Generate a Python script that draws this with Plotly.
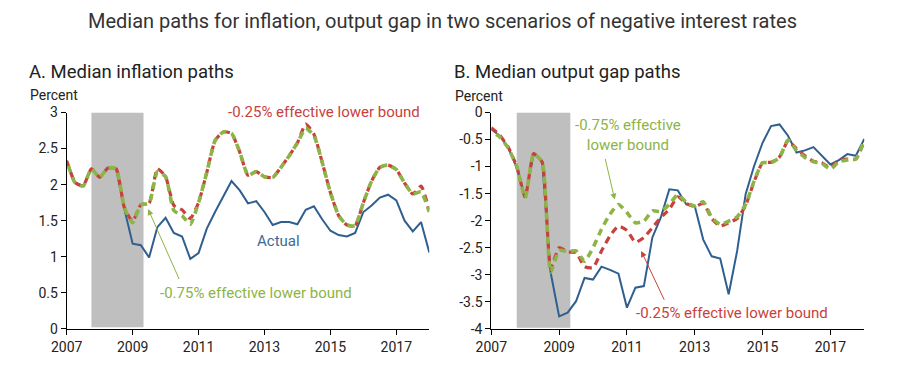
import plotly.graph_objects as go

# ---------------- data ----------------
quarters = [2007 + q / 4 for q in range(45)]

infl_actual = [2.33, 2.03, 1.98, 2.22, 2.10, 2.23, 2.22, 1.66, 1.18, 1.16,
               0.99, 1.41, 1.54, 1.33, 1.28, 0.97, 1.05, 1.39, 1.62, 1.84,
               2.05, 1.92, 1.74, 1.77, 1.62, 1.44, 1.48, 1.48, 1.45, 1.65,
               1.70, 1.52, 1.36, 1.30, 1.28, 1.33, 1.62, 1.71, 1.82, 1.86,
               1.78, 1.50, 1.35, 1.48, 1.06]
infl_m025 = [2.33, 2.03, 1.98, 2.22, 2.10, 2.23, 2.22, 1.68, 1.49, 1.72,
             1.74, 2.22, 2.11, 1.71, 1.65, 1.53, 1.75, 2.17, 2.61, 2.73,
             2.71, 2.45, 2.13, 2.18, 2.11, 2.10, 2.24, 2.40, 2.58, 2.84,
             2.70, 2.31, 1.89, 1.57, 1.44, 1.43, 1.75, 2.05, 2.24, 2.27,
             2.21, 2.02, 1.87, 1.98, 1.64]
infl_m075 = [2.33, 2.03, 1.98, 2.22, 2.10, 2.23, 2.22, 1.68, 1.47, 1.72,
             1.74, 2.18, 2.11, 1.64, 1.57, 1.45, 1.75, 2.17, 2.61, 2.73,
             2.71, 2.45, 2.13, 2.18, 2.11, 2.10, 2.24, 2.40, 2.58, 2.78,
             2.68, 2.31, 1.89, 1.57, 1.44, 1.43, 1.75, 2.05, 2.24, 2.27,
             2.21, 2.02, 1.87, 1.90, 1.62]

gap_actual = [-0.31, -0.43, -0.65, -1.02, -1.57, -0.76, -0.90, -2.96, -3.77, -3.70,
              -3.49, -3.06, -3.09, -2.85, -2.91, -2.98, -3.61, -3.24, -3.21, -2.31,
              -1.94, -1.42, -1.44, -1.70, -1.73, -2.35, -2.66, -2.70, -3.36, -2.56,
              -1.51, -0.99, -0.56, -0.25, -0.22, -0.43, -0.74, -0.70, -0.64, -0.80,
              -0.96, -0.88, -0.77, -0.80, -0.49]
gap_m025 = [-0.28, -0.42, -0.64, -1.00, -1.57, -0.76, -0.92, -2.88, -2.50, -2.58,
            -2.59, -2.85, -2.87, -2.56, -2.28, -2.10, -2.18, -2.40, -2.31, -2.13,
            -1.94, -1.79, -1.56, -1.68, -1.74, -1.68, -1.96, -2.10, -2.04, -1.96,
            -1.72, -1.28, -0.93, -0.92, -0.82, -0.53, -0.67, -0.80, -0.90, -0.93,
            -1.02, -0.88, -0.86, -0.86, -0.52]
gap_m075 = [-0.36, -0.45, -0.66, -1.00, -1.58, -0.76, -0.92, -2.96, -2.55, -2.57,
            -2.56, -2.75, -2.50, -2.16, -1.88, -1.70, -1.85, -2.04, -2.01, -1.82,
            -1.83, -1.70, -1.52, -1.66, -1.73, -1.65, -1.94, -2.07, -2.01, -1.93,
            -1.70, -1.27, -0.93, -0.93, -0.83, -0.51, -0.70, -0.83, -0.91, -0.94,
            -1.05, -0.91, -0.88, -0.86, -0.52]

recession = [2007.75, 2009.33]
year_ticks = [2007, 2009, 2011, 2013, 2015, 2017]
infl_ticks = [0, 0.5, 1, 1.5, 2, 2.5, 3]
gap_ticks = [0, -0.5, -1, -1.5, -2, -2.5, -3, -3.5, -4]

# ---------------- style ----------------
BLUE = "#2f5f8f"
RED = "#c9413c"
GREEN = "#8db446"
FONT = "Roboto"
OFF = 8                 # page body margin
W, H = 901 - OFF, 380 - OFF

def xp(px):
    return (px - OFF) / W

def yp(py):
    return 1 - (py - OFF) / H

fig = go.Figure()

for xa, ya, act, r, g in [("x", "y", infl_actual, infl_m025, infl_m075),
                          ("x2", "y2", gap_actual, gap_m025, gap_m075)]:
    fig.add_trace(go.Scatter(x=quarters, y=act, mode="lines", xaxis=xa, yaxis=ya,
                             line=dict(color=BLUE, width=2), showlegend=False))
    fig.add_trace(go.Scatter(x=quarters, y=r, mode="lines", xaxis=xa, yaxis=ya,
                             line=dict(color=RED, width=3.2, dash="7px,5px",
                                       shape="spline", smoothing=0.5),
                             showlegend=False))
    fig.add_trace(go.Scatter(x=quarters, y=g, mode="lines", xaxis=xa, yaxis=ya,
                             line=dict(color=GREEN, width=3.6, dash="0px,5px,7px,0px",
                                       shape="spline", smoothing=0.5),
                             showlegend=False))

# recession shading
fig.add_shape(type="rect", xref="x", yref="y", x0=recession[0], x1=recession[1],
              y0=0.02, y1=3, fillcolor="#bfbfbf", line_width=0, layer="below")
fig.add_shape(type="rect", xref="x2", yref="y2", x0=recession[0], x1=recession[1],
              y0=-3.98, y1=0, fillcolor="#bfbfbf", line_width=0, layer="below")

ydom = [yp(328.8), yp(112.5)]
axis_common = dict(showline=True, linecolor="black", linewidth=1, ticks="outside",
                   ticklen=5, tickcolor="black", showgrid=False, zeroline=False,
                   automargin=False,
                   tickfont=dict(family=FONT, size=14, color="#222"))

fig.update_layout(
    template="none",
    width=W, height=H, autosize=False,
    margin=dict(l=0, r=0, t=0, b=0, pad=0),
    paper_bgcolor="white", plot_bgcolor="white",
    font=dict(family=FONT, color="#222"),
    xaxis=dict(domain=[xp(66.7), xp(429.3)], range=[2007, 2018], tickvals=year_ticks,
               ticktext=[str(v) for v in year_ticks], anchor="y", **axis_common),
    yaxis=dict(domain=ydom, range=[0, 3], tickvals=infl_ticks,
               ticktext=[f"{v:g}" for v in infl_ticks], anchor="x", **axis_common),
    xaxis2=dict(domain=[xp(491.3), xp(864.3)], range=[2007, 2018], tickvals=year_ticks,
                ticktext=[str(v) for v in year_ticks], anchor="y2", **axis_common),
    yaxis2=dict(domain=ydom, range=[-4, 0], tickvals=gap_ticks,
                ticktext=[f"{v:g}" for v in gap_ticks], anchor="x2", **axis_common),
)

ann = []
def ptxt(text, x, y, size, xanchor="left", color="#222"):
    ann.append(dict(text=text, xref="paper", yref="paper", x=xp(x), y=yp(y),
                    xanchor=xanchor, yanchor="middle", showarrow=False,
                    font=dict(family=FONT, size=size, color=color)))

ptxt("Median paths for inflation, output gap in two scenarios of negative interest rates",
     442, 21, 20, xanchor="center", color="#333")
ptxt("A. Median inflation paths", 27, 72, 18.5)
ptxt("Percent", 28, 95, 14)
ptxt("B. Median output gap paths", 452, 72, 18.5)
ptxt("Percent", 453, 96, 14)

def dtxt(text, xr, yr, x, y, color, xanchor="center"):
    ann.append(dict(text=text, xref=xr, yref=yr, x=x, y=y, xanchor=xanchor,
                    yanchor="middle", showarrow=False,
                    font=dict(family=FONT, size=15, color=color)))

def arrow(xr, yr, x_head, y_head, x_tail, y_tail, color):
    ann.append(dict(text="", xref=xr, yref=yr, x=x_head, y=y_head,
                    axref=xr, ayref=yr, ax=x_tail, ay=y_tail, showarrow=True,
                    arrowhead=2, arrowsize=1.2, arrowwidth=1, arrowcolor=color))

# left panel labels
dtxt("-0.25% effective lower bound", "x", "y", 2014.81, 3.0, RED)
dtxt("Actual", "x", "y", 2013.43, 1.22, "#3d6a9a")
dtxt("-0.75% effective lower bound", "x", "y", 2012.73, 0.49, GREEN)
arrow("x", "y", 2009.47, 1.66, 2010.43, 0.67, GREEN)

# right panel labels
dtxt("Actual", "x2", "y2", 2014.87, 0.03, "#3d6a9a")
dtxt("-0.75% effective<br>lower bound", "x2", "y2", 2011.03, -0.42, GREEN)
arrow("x2", "y2", 2010.64, -1.61, 2010.35, -0.83, GREEN)
dtxt("-0.25% effective lower bound", "x2", "y2", 2014.11, -3.70, RED)
arrow("x2", "y2", 2011.42, -2.56, 2012.12, -3.49, RED)

fig.update_layout(annotations=ann)
fig.write_html("out.html")
